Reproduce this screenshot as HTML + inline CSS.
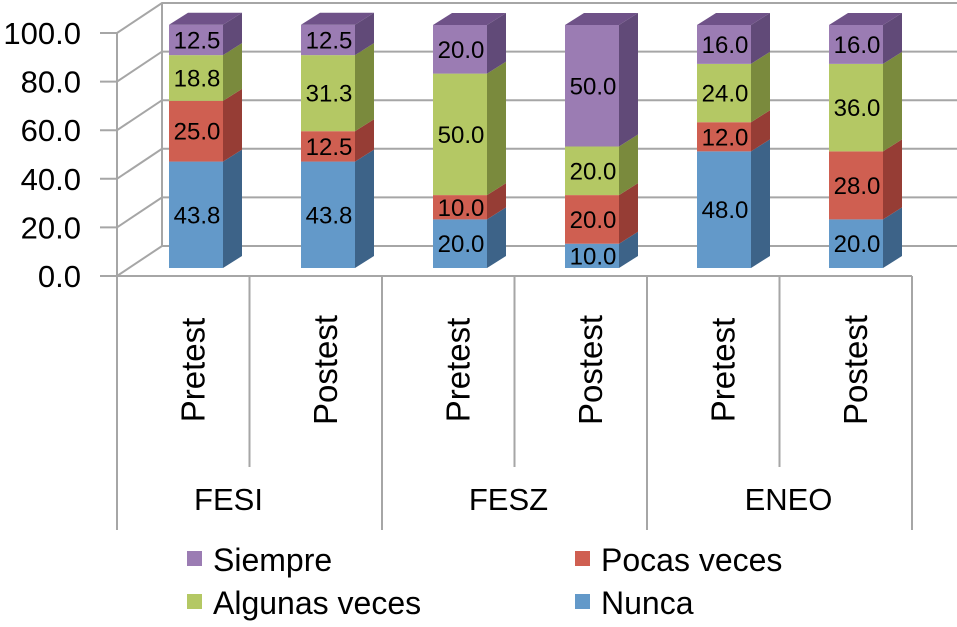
<!DOCTYPE html>
<html><head><meta charset="utf-8"><style>
body{margin:0;background:#fff;}
svg text{font-family:"Liberation Sans",Arial,sans-serif;}
</style></head><body>
<svg id="chart" width="957" height="622" viewBox="0 0 957 622" xmlns="http://www.w3.org/2000/svg">
<g id="grid"></g>
<g id="bars"></g>
<g id="axis"></g>
<g id="legend"></g>
</svg>
<script>
const categories = ["Pretest","Postest","Pretest","Postest","Pretest","Postest"];
const groups = ["FESI","FESZ","ENEO"];
const seriesNames = ["Nunca","Pocas veces","Algunas veces","Siempre"];
const nunca = [43.8,43.8,20.0,10.0,48.0,20.0];
const pocas = [25.0,12.5,10.0,20.0,12.0,28.0];
const algunas = [18.8,31.3,50.0,20.0,24.0,36.0];
const siempre = [12.5,12.5,20.0,50.0,16.0,16.0];
const yTicks = [0,20,40,60,80,100];

const NS="http://www.w3.org/2000/svg";
function mk(tag,attrs,parent,txt){const e=document.createElementNS(NS,tag);for(const k in attrs)e.setAttribute(k,attrs[k]);if(txt!==undefined)e.textContent=txt;parent.appendChild(e);return e;}
const series=[nunca,pocas,algunas,siempre];
const front=["#6399c9","#cf5f51","#b4c864","#9b7cb3"];
const side=["#3d6388","#963d35","#7a8a3d","#614a78"];
const topc=["#4c79a6","#a94b42","#8fa04b","#6f5288"];
const x0=117, x1=912, fy0=276, fy100=33, dx=45, dy=-30;
function yFront(v){return fy0+(fy100-fy0)*v/100;}
const by0=268, by100=25;
function yBar(v){return by0+(by100-by0)*v/100;}
function xBar(i){return 169+132*i;}
const bw=54, sdx=19, sdy=-12;
const grid=document.getElementById('grid');
const axis=document.getElementById('axis');
const bars=document.getElementById('bars');
const gc="#a6a6a6";
yTicks.forEach(t=>{
  const y=yFront(t);
  let l=mk('polyline',{points:`${x0-17},${y} ${x0},${y} ${x0+dx},${y+dy} 957,${y+dy}`,fill:'none',stroke:gc,'stroke-width':2},grid);
  
  
  let tx=mk('text',{x:81,y:y+11,'text-anchor':'end','font-size':31,fill:'#000'},axis,t.toFixed(1));
  
  
});
mk('line',{x1:x0+dx,y1:fy0+dy,x2:x0+dx,y2:fy100+dy,stroke:gc,'stroke-width':2},grid);
mk('line',{x1:x0,y1:fy0,x2:x0,y2:fy100,stroke:gc,'stroke-width':2},grid);
categories.forEach((c,i)=>{
  let base=0;const x=xBar(i);
  series.forEach((s,k)=>{
    const v=s[i];const yb=yBar(base), yt=yBar(base+v);
    const g=mk('g',{},bars);
    
    
    mk('rect',{x:x,y:yt,width:bw,height:yb-yt,fill:front[k]},g);
    mk('polygon',{points:`${x+bw},${yb} ${x+bw+sdx},${yb+sdy} ${x+bw+sdx},${yt+sdy} ${x+bw},${yt}`,fill:side[k]},g);
    mk('text',{x:x+bw/2+1,y:(yt+yb)/2+8.5,'text-anchor':'middle','font-size':24,fill:'#000'},g,v.toFixed(1));
    base+=v;
    if(k===series.length-1){
      mk('polygon',{points:`${x},${yt} ${x+sdx},${yt+sdy} ${x+bw+sdx},${yt+sdy} ${x+bw},${yt}`,fill:topc[k]},g);
    }
  });
});
mk('line',{x1:x0-17,y1:fy0,x2:x1,y2:fy0,stroke:gc,'stroke-width':2},axis);
for(let i=0;i<=6;i++){
  const x=x0+(x1-x0)*i/6;
  mk('line',{x1:x,y1:fy0,x2:x,y2:(i%2===0)?530:467,stroke:gc,'stroke-width':2},axis);
}
categories.forEach((c,i)=>{
  const cx=x0+(x1-x0)*(i+0.5)/6+21;
  const t=mk('text',{x:0,y:0,'text-anchor':'middle','font-size':33,fill:'#000',transform:`translate(${cx},370) rotate(-90)`},axis,c);
  
  
});
groups.forEach((g,i)=>{
  const cx=x0+(x1-x0)*(2*i+1)/6-21+15*i;
  const t=mk('text',{x:cx,y:510,'text-anchor':'middle','font-size':31,fill:'#000'},axis,g);
  
  
});
const leg=document.getElementById('legend');
const items=[[3,187,551],[1,575,551],[2,187,594],[0,575,594]];
items.forEach(([k,x,y])=>{
  const g=mk('g',{},leg);
  
  
  mk('rect',{x:x,y:y,width:15,height:15,fill:front[k]},g);
  mk('text',{x:x+26,y:y+20,'font-size':32,fill:'#000'},g,seriesNames[k]);
});
</script>
</body></html>
